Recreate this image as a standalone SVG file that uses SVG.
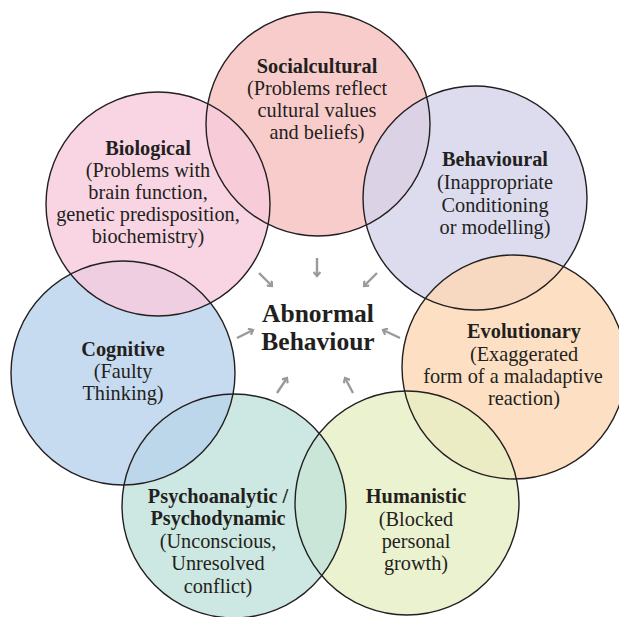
<svg xmlns="http://www.w3.org/2000/svg" width="619" height="617" viewBox="0 0 619 617">
<style>
.fill{fill-opacity:0.8;stroke:none}
.ring{fill:none;stroke:#231f20;stroke-width:1.4}
text{font-family:"Liberation Serif","Times New Roman",serif;fill:#231f20;text-anchor:middle}
.t{font-size:20.3px}
.b{font-weight:bold}
.main{font-size:25.5px;font-weight:bold}
.arr{stroke:#9a9a9a;stroke-width:2.4;fill:none;marker-end:url(#ah)}
</style>
<defs>
<marker id="ah" markerWidth="8" markerHeight="8" refX="5" refY="4" orient="auto" markerUnits="userSpaceOnUse">
<polyline points="1,0.5 5,4 1,7.5" fill="none" stroke="#9a9a9a" stroke-width="2.2"/>
</marker>
</defs>
<rect width="619" height="617" fill="#ffffff"/>
<g id="fills">
<circle class="fill" cx="318" cy="124" r="112" fill="#f8bfbf"/>
<circle class="fill" cx="475" cy="198" r="112" fill="#d5d3eb"/>
<circle class="fill" cx="514" cy="367" r="112" fill="#fdd8b4"/>
<circle class="fill" cx="407" cy="503" r="112" fill="#e6efc3"/>
<circle class="fill" cx="234" cy="506" r="112" fill="#c1e2db"/>
<circle class="fill" cx="123" cy="373" r="112" fill="#b8d2ec"/>
<circle class="fill" cx="158" cy="204" r="112" fill="#f8cbdc"/>
</g>
<g id="connectors">
<line class="arr" x1="317" y1="258" x2="317" y2="276"/>
<line class="arr" x1="259" y1="273" x2="272" y2="286"/>
<line class="arr" x1="377" y1="273" x2="364" y2="286"/>
<line class="arr" x1="237" y1="338" x2="253" y2="330"/>
<line class="arr" x1="400" y1="338" x2="383" y2="330"/>
<line class="arr" x1="277" y1="393" x2="287" y2="378"/>
<line class="arr" x1="353" y1="393" x2="345" y2="378"/>
</g>
<g id="socialcultural">
<circle class="ring" cx="318" cy="124" r="112"/>
<text class="t b" x="317" y="73">Socialcultural</text>
<text class="t" x="317" y="95">(Problems reflect</text>
<text class="t" x="317" y="117">cultural values</text>
<text class="t" x="317" y="139">and beliefs)</text>
</g>
<g id="behavioural">
<circle class="ring" cx="475" cy="198" r="112"/>
<text class="t b" x="495" y="166">Behavioural</text>
<text class="t" x="495" y="189">(Inappropriate</text>
<text class="t" x="495" y="212">Conditioning</text>
<text class="t" x="495" y="234">or modelling)</text>
</g>
<g id="evolutionary">
<circle class="ring" cx="514" cy="367" r="112"/>
<text class="t b" x="524" y="338">Evolutionary</text>
<text class="t" x="524" y="361">(Exaggerated</text>
<text class="t" x="513" y="383">form of a maladaptive</text>
<text class="t" x="524" y="405">reaction)</text>
</g>
<g id="humanistic">
<circle class="ring" cx="407" cy="503" r="112"/>
<text class="t b" x="416" y="503">Humanistic</text>
<text class="t" x="416" y="526">(Blocked</text>
<text class="t" x="416" y="548">personal</text>
<text class="t" x="416" y="570">growth)</text>
</g>
<g id="psychoanalytic">
<circle class="ring" cx="234" cy="506" r="112"/>
<text class="t b" x="218" y="503">Psychoanalytic /</text>
<text class="t b" x="218" y="525">Psychodynamic</text>
<text class="t" x="218" y="548">(Unconscious,</text>
<text class="t" x="218" y="570">Unresolved</text>
<text class="t" x="218" y="593">conflict)</text>
</g>
<g id="cognitive">
<circle class="ring" cx="123" cy="373" r="112"/>
<text class="t b" x="123" y="356">Cognitive</text>
<text class="t" x="123" y="378">(Faulty</text>
<text class="t" x="123" y="400">Thinking)</text>
</g>
<g id="biological">
<circle class="ring" cx="158" cy="204" r="112"/>
<text class="t b" x="148" y="155">Biological</text>
<text class="t" x="148" y="177">(Problems with</text>
<text class="t" x="148" y="199">brain function,</text>
<text class="t" x="148" y="221">genetic predisposition,</text>
<text class="t" x="148" y="243">biochemistry)</text>
</g>
<g id="abnormal">
<text class="main" x="318" y="322">Abnormal</text>
<text class="main" x="318" y="350">Behaviour</text>
</g>
</svg>
